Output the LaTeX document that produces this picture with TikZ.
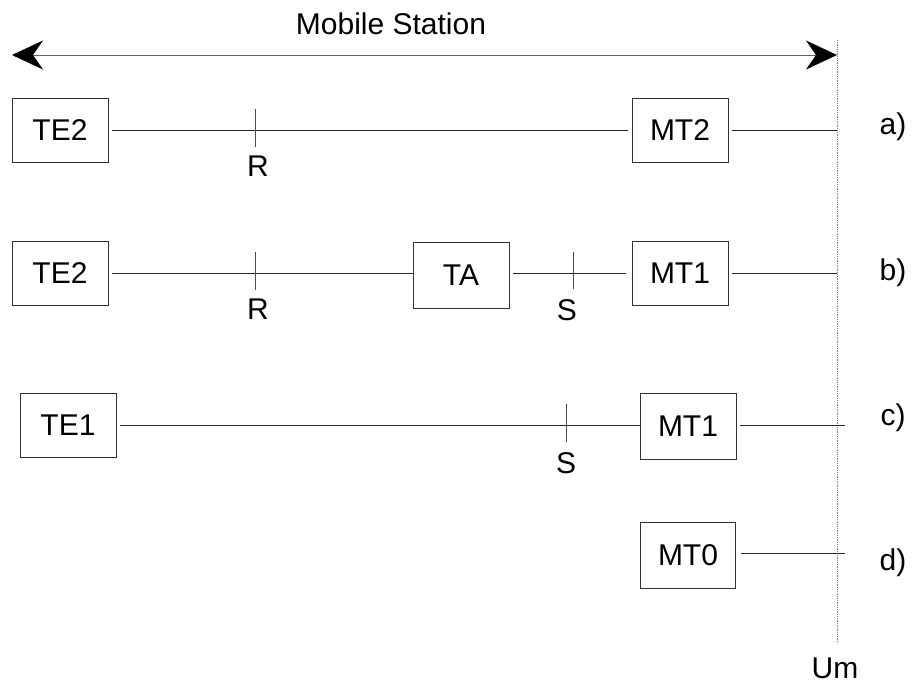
\documentclass[tikz,border=0pt]{standalone}
\usepackage{fontspec}
\setmainfont{Liberation Sans}
\usetikzlibrary{arrows.meta,calc}
\begin{document}
\begin{tikzpicture}[x=1pt,y=-1pt,
  box/.style={draw=black!80,line width=0.9pt,minimum width=96pt,minimum height=64pt,inner sep=0pt,font=\fontsize{30}{32}\selectfont},
  lbl/.style={font=\fontsize{30}{32}\selectfont,inner sep=0pt},
  wire/.style={draw=black!85,line width=0.9pt},
  tick/.style={draw=black!70,line width=0.9pt}]
\useasboundingbox (0,0) rectangle (919,688);
% vertical Um line
\coordinate (vt) at (837,40);
\coordinate (vb) at (837,643);
\draw[gray,line width=0.8pt,densely dotted] (vt) -- (vb);
% Mobile station arrow
\coordinate (al) at (12,55);
\coordinate (ar) at (837,55);
\draw[gray!80!black,line width=1pt,{Stealth[length=31pt,width=29pt,inset=10pt,black]}-{Stealth[length=31pt,width=29pt,inset=10pt,black]}] (al) -- (ar);
\node[lbl] (ms) at (391,24) {Mobile Station};
% row a
\node[box] (te2a) at (60,130) {TE2};
\node[box] (mt2) at (680,130) {MT2};
\coordinate (ea) at (837,130);
\draw[wire] ($(te2a.east)+(4,0)$) -- ($(mt2.west)+(-4,0)$);
\draw[wire] ($(mt2.east)+(4,0)$) -- (ea);
\coordinate (ra) at (255,130);
\draw[tick] ($(ra)+(0,-21)$) -- ($(ra)+(0,17)$);
\node[lbl] (rla) at (258,166) {R};
\node[lbl] (la) at (893,127) {a)};
% row b
\node[box] (te2b) at (60,273) {TE2};
\node[box,minimum height=66pt] (ta) at (461,275) {\raisebox{-7pt}{TA}};
\node[box] (mt1b) at (680,273) {MT1};
\coordinate (eb) at (837,273);
\draw[wire] ($(te2b.east)+(4,0)$) -- (ta.west|-te2b.east);
\draw[wire] ($(ta.east|-te2b.east)+(4,0)$) -- ($(mt1b.west)+(-6,0)$);
\draw[wire] ($(mt1b.east)+(4,0)$) -- (eb);
\coordinate (rb) at (255,273);
\draw[tick] ($(rb)+(0,-21)$) -- ($(rb)+(0,17)$);
\node[lbl] (rlb) at (258,309) {R};
\coordinate (sb) at (573,273);
\draw[tick] ($(sb)+(0,-21)$) -- ($(sb)+(0,16)$);
\node[lbl] (slb) at (567,310) {S};
\node[lbl] (lb) at (893,273) {b)};
% row c
\node[box] (te1) at (68,425) {TE1};
\node[box,minimum height=66pt] (mt1c) at (688,426) {MT1};
\coordinate (ec) at (845,425);
\draw[wire] ($(te1.east)+(4,0)$) -- (mt1c.west|-te1.east);
\draw[wire] ($(mt1c.east|-te1.east)+(4,0)$) -- (ec);
\coordinate (sc) at (566,425);
\draw[tick] ($(sc)+(0,-21)$) -- ($(sc)+(0,17)$);
\node[lbl] (slc) at (566,463) {S};
\node[lbl] (lc) at (893,418) {c)};
% row d
\node[box,minimum width=95pt,minimum height=66pt] (mt0) at (688,555) {MT0};
\coordinate (ed) at (845,553);
\draw[wire] ($(mt0.east|-ed)+(5,0)$) -- (ed);
\node[lbl] (ld) at (893,563) {d)};
% Um
\node[lbl] (um) at (835,668) {Um};
\end{tikzpicture}
\end{document}
